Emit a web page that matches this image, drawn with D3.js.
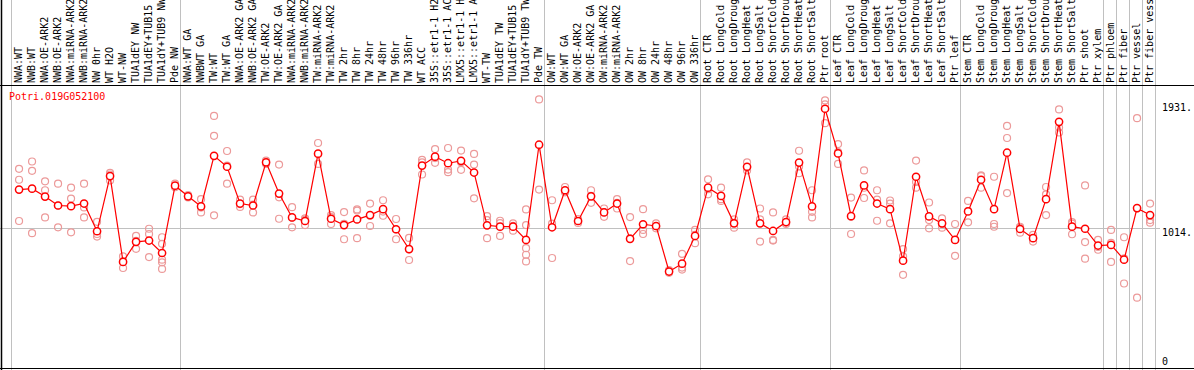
<!DOCTYPE html>
<html>
<head>
<meta charset="utf-8">
<script src="https://cdn.jsdelivr.net/npm/d3@7"></script>
<style>
  body { margin: 0; background: #fff; }
  svg { display: block; font-family: "DejaVu Sans Mono", monospace; }
</style>
</head>
<body>
<svg id="chart"></svg>
<script>
// sample groups (dividers drawn between groups)
const nwSamples = ["NWA:WT", "NWB:WT", "NWA:OE-ARK2", "NWB:OE-ARK2", "NWA:miRNA-ARK2", "NWB:miRNA-ARK2",
    "NW 0hr", "WT H2O", "WT-NW", "TUA1dEY NW", "TUA1dEY+TUB15 NW", "TUA1dY+TUB9 NW", "Pde NW"];
const twSamples = ["NWA:WT GA", "NWBWT GA", "TW:WT", "TW:WT GA", "NWA:OE-ARK2 GA", "NWB:OE-ARK2 GA",
    "TW:OE-ARK2", "TW:OE-ARK2 GA", "NWA:miRNA-ARK2", "NWB:miRNA-ARK2", "TW:miRNA-ARK2", "TW:miRNA-ARK2",
    "TW 2hr", "TW 8hr", "TW 24hr", "TW 48hr", "TW 96hr", "TW 336hr", "WT ACC",
    "35S::etr1-1 H2O", "35S::etr1-1 ACC", "LMX5::etr1-1 H2O", "LMX5::etr1-1 ACC",
    "WT-TW", "TUA1dEY TW", "TUA1dEY+TUB15 TW", "TUA1dY+TUB9 TW", "Pde TW"];
const owSamples = ["OW:WT", "OW:WT GA", "OW:OE-ARK2", "OW:OE-ARK2 GA", "OW:miRNA-ARK2", "OW:miRNA-ARK2",
    "OW 2hr", "OW 8hr", "OW 24hr", "OW 48hr", "OW 96hr", "OW 336hr"];
const rootSamples = ["Root CTR", "Root LongCold", "Root LongDrought", "Root LongHeat", "Root LongSalt",
    "Root ShortCold", "Root ShortDrought", "Root ShortHeat", "Root ShortSalt", "Ptr root"];
const leafSamples = ["Leaf CTR", "Leaf LongCold", "Leaf LongDrought", "Leaf LongHeat", "Leaf LongSalt",
    "Leaf ShortCold", "Leaf ShortDrought", "Leaf ShortHeat", "Leaf ShortSalt", "Ptr leaf"];
const stemSamples = ["Stem CTR", "Stem LongCold", "Stem LongDrought", "Stem LongHeat", "Stem LongSalt",
    "Stem ShortCold", "Stem ShortDrought", "Stem ShortHeat", "Stem ShortSalt", "Ptr shoot", "Ptr xylem"];
const tissueSamples = [["Ptr phloem"], ["Ptr fiber"], ["Ptr vessel"], ["Ptr fiber vessel"]];

const groups = [nwSamples, twSamples, owSamples, rootSamples, leafSamples, stemSamples, ...tissueSamples];

const geneId = "Potri.019G052100";

// mean expression per sample
const meanValues = [
    1304, 1311, 1251, 1183, 1178, 1198, 987, 1407, 753, 906, 916, 821, 1334,
    1253, 1176, 1561, 1478, 1198, 1183, 1512, 1274, 1092, 1065, 1578, 1082, 1034, 1077, 1110, 1155,
    1002, 851, 1487, 1555, 1505, 1523, 1434, 1032, 1022, 1022, 921, 1646,
    1017, 1299, 1065, 1253, 1130, 1198, 929, 1040, 1027, 680, 740, 951,
    1319, 1256, 1047, 1478, 1047, 989, 1057, 1510, 1176, 1920,
    1580, 1102, 1336, 1198, 1155, 763, 1402, 1100, 1047, 921,
    1138, 1379, 1155, 1585, 1004, 934, 1231, 1820, 1022, 1006, 878,
    883, 770, 1163, 1110
];

// individual replicates per sample
const replicateValues = [
    [1462, 1379, 1065], [1518, 1447, 972], [1367, 1299, 1092], [1349, 1183, 1017], [1319, 1236, 979],
    [1349, 1168, 1092], [1059, 966, 946], [1432, 1419, 1374], [795, 757, 707], [951, 914, 853],
    [1006, 966, 790], [941, 891, 770, 750, 700], [1350, 1330, 1322],
    [1262, 1253, 1244], [1231, 1167, 1130], [1865, 1714, 1108], [1598, 1487, 1349], [1228, 1193, 1172],
    [1228, 1190, 1130], [1525, 1512, 1500], [1495, 1245, 1082], [1170, 1090, 1017], [1085, 1076, 1034],
    [1659, 1575, 1500], [1110, 1094, 1042], [1133, 1043, 926], [1153, 1144, 934], [1198, 1105, 1027],
    [1223, 1137, 1105], [1080, 1000, 926], [936, 849, 768], [1530, 1512, 1419], [1613, 1544, 1508],
    [1621, 1457, 1437], [1601, 1513, 1455], [1576, 1495, 1238], [1102, 1072, 934], [1067, 1048, 951],
    [1047, 1028, 991], [1153, 1034, 858, 808, 757], [1991, 1643, 1304],
    [1223, 1045, 783], [1324, 1290, 1283], [1080, 1065, 1050], [1299, 1257, 1203], [1160, 1133, 1097],
    [1231, 1203, 1160], [1095, 932, 760], [1155, 997, 966], [1047, 1025, 1009], [690, 680, 670],
    [815, 710, 695], [997, 960, 896],
    [1382, 1307, 1268], [1319, 1231, 1218], [1077, 1050, 1014], [1512, 1472, 1450], [1160, 1077, 908],
    [1130, 921, 916], [1077, 1052, 1042], [1600, 1480, 1429], [1299, 1135, 1092], [1983, 1953, 1810],
    [1651, 1589, 1500], [1243, 1097, 966], [1450, 1318, 1240], [1299, 1228, 1067], [1221, 1197, 1047],
    [851, 795, 655], [1525, 1362, 1319], [1206, 1072, 1009], [1085, 1042, 1014], [1042, 921, 800],
    [1218, 1141, 1055], [1412, 1406, 1319], [1402, 1042, 1021], [1789, 1697, 1278], [1021, 1015, 976],
    [959, 935, 908], [1324, 1268, 1110], [1915, 1777, 1739], [1057, 1045, 964], [1336, 904, 778],
    [921, 867, 846],
    [997, 899, 753], [941, 780, 589], [1848, 1160, 481], [1198, 1072, 1052]
];

const yTicks = [1931, 1014, 0];
const gridValue = 1014;

const width = 1194, height = 370;
const plot = { left: 11, right: 1155, top: 85, bottom: 368 };

const samples = groups.flat();

const svg = d3.select("#chart").attr("width", width).attr("height", height);

const xScale = d3.scaleBand().domain(d3.range(samples.length)).range([plot.left, plot.right]).padding(0);
const cx = i => xScale(i) + xScale.bandwidth() * 0.62;
const yScale = d3.scaleLinear().domain([0, 1931]).range([360.8, 107.3]);

// group dividers
let start = 0;
const dividers = [0];
groups.forEach(g => { start += g.length; dividers.push(start); });
svg.append("g").selectAll("line").data(dividers).join("line")
    .attr("x1", d => (d < samples.length ? xScale(d) : plot.right) + 0.5)
    .attr("x2", d => (d < samples.length ? xScale(d) : plot.right) + 0.5)
    .attr("y1", 0).attr("y2", height)
    .attr("stroke", "#c0c0c0").attr("stroke-width", 1);

// reference line
svg.append("line")
    .attr("x1", 0).attr("x2", 1160)
    .attr("y1", Math.round(yScale(gridValue)) + 0.5).attr("y2", Math.round(yScale(gridValue)) + 0.5)
    .attr("stroke", "#c0c0c0").attr("stroke-width", 1);

// frame
svg.append("line").attr("x1", 1.5).attr("x2", 1.5).attr("y1", 0).attr("y2", height)
    .attr("stroke", "#000").attr("stroke-width", 1.5);
svg.append("line").attr("x1", 0).attr("x2", width).attr("y1", plot.top + 0.5).attr("y2", plot.top + 0.5)
    .attr("stroke", "#000").attr("stroke-width", 1);
svg.append("line").attr("x1", 0).attr("x2", width).attr("y1", plot.bottom + 0.5).attr("y2", plot.bottom + 0.5)
    .attr("stroke", "#000").attr("stroke-width", 1);

// sample labels, rotated
svg.append("g").selectAll("text").data(samples).join("text")
    .attr("transform", (d, i) => `translate(${cx(i) + 3},${plot.top - 2}) rotate(-90)`)
    .attr("font-size", 10)
    .attr("fill", "#000")
    .text(d => d);

// y tick labels
svg.append("g").selectAll("text").data(yTicks).join("text")
    .attr("x", 1162)
    .attr("y", d => d === gridValue ? yScale(d) + 1 : yScale(d) + 1)
    .attr("dominant-baseline", d => d === gridValue ? "hanging" : "middle")
    .attr("font-size", 10)
    .attr("fill", "#000")
    .text(d => d === 0 ? "0" : d + ".");

// gene id
svg.append("text")
    .attr("x", 9).attr("y", 100)
    .attr("font-size", 10)
    .attr("fill", "#ff0000")
    .text(geneId);

// replicates
const reps = replicateValues.flatMap((vals, i) => vals.map(v => ({ i, v })));
svg.append("g").selectAll("circle").data(reps).join("circle")
    .attr("cx", d => cx(d.i))
    .attr("cy", d => yScale(d.v))
    .attr("r", 3.5)
    .attr("fill", "none")
    .attr("stroke", "#ec9a9a")
    .attr("stroke-width", 1.2);

// mean line
svg.append("path")
    .datum(meanValues)
    .attr("fill", "none")
    .attr("stroke", "#ff0000")
    .attr("stroke-width", 1.2)
    .attr("d", d3.line().x((d, i) => cx(i)).y(d => yScale(d)));

// mean markers
svg.append("g").selectAll("circle").data(meanValues).join("circle")
    .attr("cx", (d, i) => cx(i))
    .attr("cy", d => yScale(d))
    .attr("r", 3.6)
    .attr("fill", "#fff")
    .attr("stroke", "#ff0000")
    .attr("stroke-width", 1.5);
</script>
</body>
</html>
